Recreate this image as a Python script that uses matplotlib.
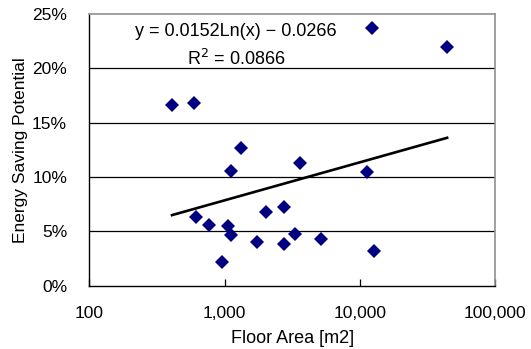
import numpy as np
import matplotlib
matplotlib.use("Agg")
import matplotlib.pyplot as plt
from matplotlib.ticker import FixedLocator, FuncFormatter, PercentFormatter

plt.rcParams['font.family'] = ['Liberation Sans', 'DejaVu Sans']

# Floor area [m2] and energy saving potential (fraction) per building
floor_area = [409, 598, 612, 768, 953, 1067, 1111, 1111, 1318, 1730,
              2037, 2754, 2754, 3340, 3597, 5148, 11320, 12330, 12690, 44240]
saving = [0.1664, 0.1676, 0.0631, 0.0557, 0.0216, 0.0544, 0.0468, 0.1058,
          0.1264, 0.0397, 0.0677, 0.0720, 0.0378, 0.0471, 0.1129, 0.0428,
          0.1046, 0.2371, 0.0320, 0.2196]

# Logarithmic trend line coefficients
trend_a = 0.0152
trend_b = -0.0266
r_squared = 0.0866

x_ticks = [100, 1000, 10000, 100000]
y_ticks = [0, 0.05, 0.10, 0.15, 0.20, 0.25]

W, H = 531, 349
fig = plt.figure(figsize=(W / 100, H / 100), dpi=100)
ax = fig.add_axes([89.3 / W, 1 - 285.5 / H, (495 - 89.3) / W, (285.5 - 14) / H])

ax.set_xscale('log')
ax.set_xlim(100, 100000)
ax.set_ylim(0, 0.25)

# horizontal gridlines
for yv in y_ticks[1:-1]:
    ax.axhline(yv, color='black', lw=0.9, zorder=1)

# trend line
xt = np.logspace(np.log10(min(floor_area)), np.log10(max(floor_area)), 200)
ax.plot(xt, trend_a * np.log(xt) + trend_b, color='black', lw=1.9, zorder=2)

# data points
ax.plot(floor_area, saving, linestyle='none', marker='D', ms=7.2,
        color='#000080', markeredgewidth=0, zorder=3)

ax.xaxis.set_major_locator(FixedLocator(x_ticks))
ax.xaxis.set_minor_locator(FixedLocator([]))
ax.xaxis.set_major_formatter(FuncFormatter(lambda v, p: f"{int(round(v)):,}"))
ax.yaxis.set_major_locator(FixedLocator(y_ticks))
ax.yaxis.set_major_formatter(PercentFormatter(1.0, decimals=0))

ax.tick_params(axis='x', direction='in', length=5, width=0.9, pad=15,
               labelsize=12.5, colors='black')
ax.tick_params(axis='y', length=0, pad=16, labelsize=12.5)

for side in ('left', 'bottom'):
    ax.spines[side].set_color('black')
    ax.spines[side].set_linewidth(1.0)
for side in ('top', 'right'):
    ax.spines[side].set_color('#909090')
    ax.spines[side].set_linewidth(1.2)

ax.set_xlabel('Floor Area [m2]', fontsize=13, labelpad=6)
ax.set_ylabel('Energy Saving Potential', fontsize=12.5, labelpad=3)

# regression equation, placed in pixel coordinates from the top-left
ax.text(236, H - 31, f"y = {trend_a}Ln(x) − {abs(trend_b)}", fontsize=13,
        ha='center', va='center', transform=None)
ax.text(236, H - 59, f"R$^2$ = {r_squared}", fontsize=13,
        ha='center', va='center', transform=None)

fig.savefig('out.png', dpi=100)
